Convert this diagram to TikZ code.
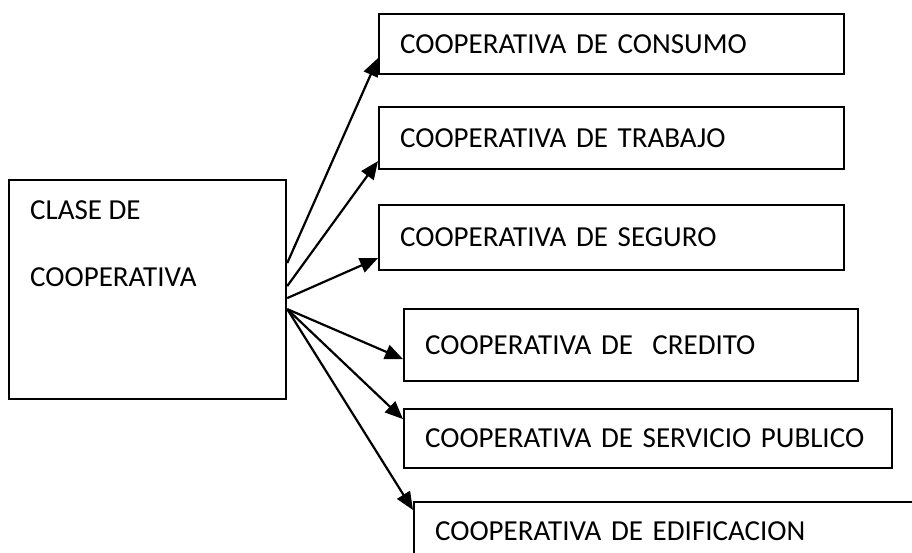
\documentclass[tikz,border=0pt]{standalone}
\usepackage{fontspec}
\setmainfont{Carlito}
\usepackage{tikz}
\usetikzlibrary{arrows.meta}

\begin{document}
\begin{tikzpicture}[x=1pt, y=-1pt,
    every node/.style={font=\fontsize{29}{35}\selectfont},
    cbox/.style={draw, line width=2.2pt, anchor=north west, inner xsep=21pt, inner ysep=0pt, align=left},
    arr/.style={line width=2.2pt, -{Triangle[length=18pt, width=15pt]}}]

    \path[use as bounding box, clip] (0,0) rectangle (912,552);

    % Draw the main box on the left
    \node[draw, line width=2.2pt, anchor=north west, minimum width=277pt, minimum height=219pt, inner sep=0pt] (clase) at (8,179) {};
    \node[anchor=north west, align=left, inner sep=0pt] (clasetxt) at (30,200.5) {CLASE DE\\[32pt]COOPERATIVA};

    % Draw the boxes on the right
    \node[cbox, minimum height=60pt, text width=423pt] (consumo) at (378,13) {COOPERATIVA DE CONSUMO};
    \node[cbox, minimum height=62pt, text width=423pt] (trabajo) at (378,106) {COOPERATIVA DE TRABAJO};
    \node[cbox, minimum height=65pt, text width=423pt] (seguro) at (378,204) {COOPERATIVA DE SEGURO};
    \node[cbox, minimum height=72pt, text width=412pt] (credito) at (403,308) {COOPERATIVA DE \ CREDITO};
    \node[cbox, minimum height=59pt, text width=446pt] (servicio) at (403,408) {COOPERATIVA DE SERVICIO PUBLICO};
    \node[cbox, minimum height=58pt, text width=520pt] (edificacion) at (413,501) {COOPERATIVA DE EDIFICACION};

    % Start points of the arrows on the left box
    \coordinate (o1) at ([yshift=26.5pt]clase.east);
    \coordinate (o2) at ([yshift=3.5pt]clase.east);
    \coordinate (o3) at ([yshift=-8.5pt]clase.east);
    \coordinate (o4) at ([yshift=-19.5pt]clase.east);

    % Draw the arrows
    \draw[arr] (o1) -- ([yshift=-14pt]consumo.west);
    \draw[arr] (o2) -- ([yshift=-23pt]trabajo.west);
    \draw[arr] (o3) -- ([yshift=-20.5pt]seguro.west);
    \draw[arr] (o4) -- ([yshift=-14pt]credito.west);
    \draw[arr] (o4) -- ([yshift=19.5pt]servicio.west);
    \draw[arr] (o4) -- ([yshift=-9pt]edificacion.north west);

\end{tikzpicture}
\end{document}
